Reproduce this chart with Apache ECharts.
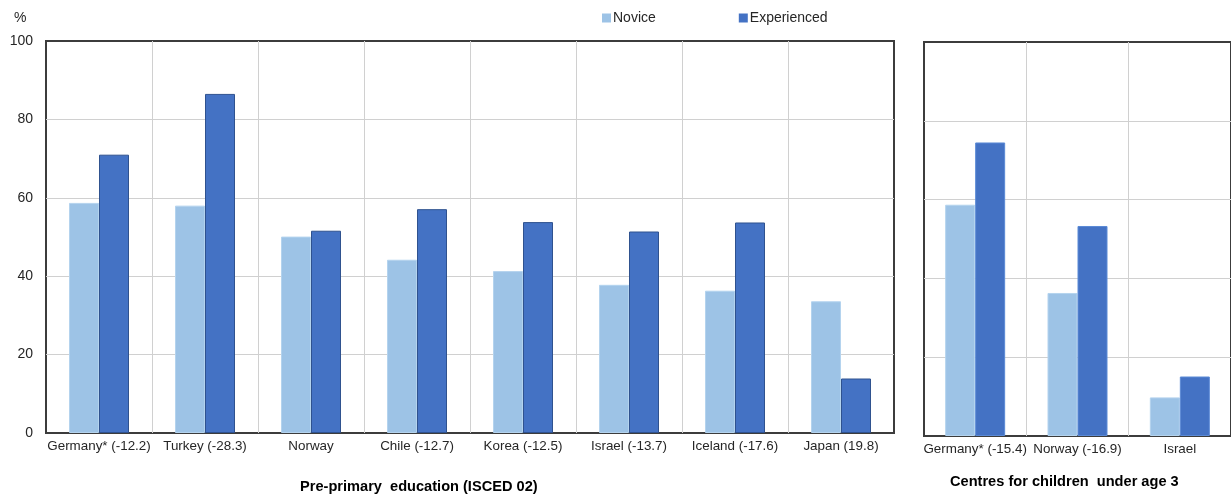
<!DOCTYPE html>
<html>
<head>
<meta charset="utf-8">
<script src="https://cdn.jsdelivr.net/npm/echarts@6/dist/echarts.min.js"></script>
<style>
  html, body { margin: 0; padding: 0; background: #ffffff; }
  #chart { width: 1231px; height: 500px; }
</style>
</head>
<body>
<div id="chart"></div>
<script>
// Share of staff (%), novice vs experienced
const preprimaryCategories = ['Germany* (-12.2)', 'Turkey (-28.3)', 'Norway', 'Chile (-12.7)', 'Korea (-12.5)', 'Israel (-13.7)', 'Iceland (-17.6)', 'Japan (19.8)'];
const preprimaryNovice = [58.7, 58.0, 50.1, 44.2, 41.3, 37.8, 36.3, 33.6];
const preprimaryExperienced = [71.0, 86.5, 51.6, 57.1, 53.8, 51.4, 53.7, 13.9];

const under3Categories = ['Germany* (-15.4)', 'Norway (-16.9)', 'Israel'];
const under3Novice = [58.7, 36.3, 9.8];
const under3Experienced = [74.5, 53.3, 15.1];

const yTicks = { min: 0, max: 100, interval: 20 };
const seriesNames = ['Novice', 'Experienced'];

const noviceColor = '#9dc3e6';
const experiencedColor = '#4472c4';
const textColor = '#262626';
const gridLineColor = '#d0d0d0';
const frameColor = '#3c3c3c';
const font = 'Liberation Sans, Arial, sans-serif';

const chart = echarts.init(document.getElementById('chart'), null, { renderer: 'canvas' });

function xAxisFor(cats, gridIndex) {
  return {
    type: 'category',
    gridIndex: gridIndex,
    data: cats,
    boundaryGap: true,
    axisTick: { show: false },
    axisLine: { show: false },
    axisLabel: { interval: 0, color: textColor, fontFamily: font, fontSize: 13.4, margin: 7 },
    splitLine: { show: true, interval: 0, showMinLine: false, showMaxLine: false, lineStyle: { color: gridLineColor, width: 1 } }
  };
}

function yAxisFor(gridIndex, showLabels) {
  return {
    type: 'value',
    gridIndex: gridIndex,
    min: yTicks.min,
    max: yTicks.max,
    interval: yTicks.interval,
    axisLine: { show: false },
    axisTick: { show: false },
    axisLabel: { show: showLabels, color: textColor, fontFamily: font, fontSize: 14, margin: 13 },
    splitLine: { show: true, showMinLine: false, showMaxLine: false, lineStyle: { color: gridLineColor, width: 1 } }
  };
}

function barSeries(name, data, idx, color, border) {
  return {
    name: name,
    type: 'bar',
    xAxisIndex: idx,
    yAxisIndex: idx,
    data: data,
    barWidth: 30,
    barGap: '0%',
    itemStyle: { color: color, borderColor: border, borderWidth: 1 },
    emphasis: { disabled: true }
  };
}

chart.setOption({
  animation: false,
  backgroundColor: '#ffffff',
  textStyle: { fontFamily: font },
  legend: {
    data: seriesNames,
    left: 597,
    top: 6,
    itemWidth: 9,
    itemHeight: 9,
    itemGap: 83,
    icon: 'rect',
    itemStyle: { borderWidth: 0 },
    textStyle: { color: textColor, fontFamily: font, fontSize: 14, padding: [0, 0, 0, -3] }
  },
  grid: [
    { left: 46, top: 41, width: 848, height: 392, show: true, borderColor: frameColor, borderWidth: 2, backgroundColor: 'transparent' },
    { left: 924, top: 42, width: 314, height: 394, show: true, borderColor: frameColor, borderWidth: 2, backgroundColor: 'transparent' }
  ],
  xAxis: [xAxisFor(preprimaryCategories, 0), xAxisFor(under3Categories, 1)],
  yAxis: [yAxisFor(0, true), yAxisFor(1, false)],
  graphic: [
    { type: 'text', left: 14, top: 11, style: { text: '%', fill: textColor, font: '14px ' + font } },
    { type: 'text', left: 300, top: 479, style: { text: 'Pre-primary  education (ISCED 02)', fill: '#000000', font: 'bold 14.6px ' + font } },
    { type: 'text', left: 950, top: 474, style: { text: 'Centres for children  under age 3', fill: '#000000', font: 'bold 14.6px ' + font } }
  ],
  series: [
    barSeries(seriesNames[0], preprimaryNovice, 0, noviceColor, '#b4d3ee'),
    barSeries(seriesNames[1], preprimaryExperienced, 0, experiencedColor, '#2f528f'),
    barSeries(seriesNames[0], under3Novice, 1, noviceColor, '#b4d3ee'),
    barSeries(seriesNames[1], under3Experienced, 1, experiencedColor, '#5b8ad6')
  ]
});
</script>
</body>
</html>
